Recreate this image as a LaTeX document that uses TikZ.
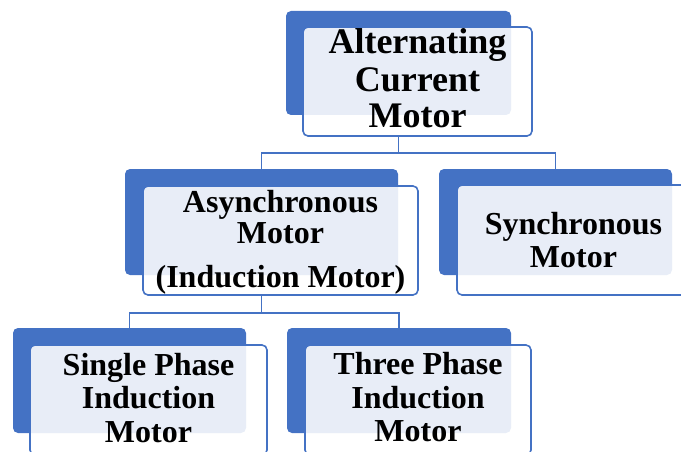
\documentclass[tikz,border=0pt]{standalone}
\usepackage{fontspec}
\setmainfont{Liberation Serif}
\definecolor{sablue}{HTML}{4472C4}
\tikzset{
  backbox/.style={draw=none, fill=sablue, rounded corners=5pt, inner sep=0pt},
  frontbox/.style={draw=sablue, line width=1.6pt, fill=white, fill opacity=0.88, rounded corners=5pt, inner sep=0pt},
  conn/.style={draw=sablue, line width=1.5pt},
  big/.style={anchor=base, inner sep=0pt, font=\fontsize{36}{37}\selectfont\bfseries},
  lbl/.style={anchor=base, inner sep=0pt, font=\fontsize{32}{33}\selectfont\bfseries}
}
\begin{document}
\begin{tikzpicture}[x=1pt, y=-1pt]
\useasboundingbox (0,0) rectangle (681,452);
\clip (0,0) rectangle (681,452);
% back boxes
\node[backbox, minimum width=225pt, minimum height=104pt] (acb) at (398.5,63) {};
\node[backbox, minimum width=273pt, minimum height=106pt] (asb) at (261.5,222) {};
\node[backbox, minimum width=233pt, minimum height=106pt] (syb) at (555.5,222) {};
\node[backbox, minimum width=233pt, minimum height=105pt] (spb) at (129.5,380.5) {};
\node[backbox, minimum width=224pt, minimum height=105pt] (tpb) at (399,380.5) {};
% front boxes
\node[frontbox, minimum width=229pt, minimum height=109pt] (acf) at (417.5,81.5) {};
\node[frontbox, minimum width=275pt, minimum height=109pt] (asf) at (280.5,240.5) {};
\node[frontbox, minimum width=233pt, minimum height=110pt] (syf) at (573.5,240) {};
\node[frontbox, minimum width=237pt, minimum height=110pt] (spf) at (148.5,400) {};
\node[frontbox, minimum width=226pt, minimum height=110pt] (tpf) at (418,400) {};
% connectors
\coordinate (s1) at (acb.south |- acf.south);
\coordinate (s2) at (asb.south |- asf.south);
\draw[conn] (s1) -- ++(0,16) coordinate (j1) -| (asb.north);
\draw[conn] (j1) -| (syb.north);
\draw[conn] (s2) -- ++(0,17) coordinate (j2) -| (spb.north);
\draw[conn] (j2) -| (tpb.north);
% texts
\node[big] (ac1) at (417.5,54) {Alternating};
\node[big] (ac2) at (417.5,92) {Current};
\node[big] (ac3) at (417.5,128) {Motor};
\node[lbl] (as1) at (280.5,212) {Asynchronous};
\node[lbl] (as2) at (280.5,243) {Motor};
\node[lbl] (as3) at (280.5,287) {(Induction Motor)};
\node[lbl] (sy1) at (573.5,234) {Synchronous};
\node[lbl] (sy2) at (573.5,267) {Motor};
\node[lbl] (sp1) at (148.5,375) {Single Phase};
\node[lbl] (sp2) at (148.5,408) {Induction};
\node[lbl] (sp3) at (148.5,442) {Motor};
\node[lbl] (tp1) at (418,374) {Three Phase};
\node[lbl] (tp2) at (418,408) {Induction};
\node[lbl] (tp3) at (418,441) {Motor};
\end{tikzpicture}
\end{document}
